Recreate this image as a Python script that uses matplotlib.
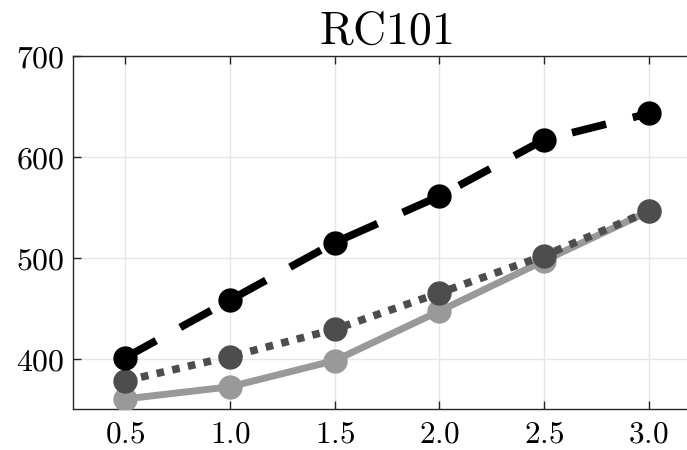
import matplotlib
matplotlib.use("Agg")
import matplotlib.pyplot as plt

plt.rcParams['mathtext.fontset'] = 'cm'
plt.rcParams['font.family'] = 'serif'
plt.rcParams['font.serif'] = ['DejaVu Serif']

x = [0.5, 1.0, 1.5, 2.0, 2.5, 3.0]
svart = [401, 458, 515, 561, 617, 643]
mork = [378, 402, 429, 465, 502, 546]
ljus = [360, 372, 398, 447, 497, 546]

xticks = [0.5, 1.0, 1.5, 2.0, 2.5, 3.0]
yticks = [400, 500, 600, 700]

fig = plt.figure(figsize=(6.87, 4.5), dpi=100)
# axeln går lite utanför bilden till höger, som i originalet
ax = fig.add_axes([73/687, 1 - 409/450, (701 - 73)/687, (409 - 56)/450])

ax.plot(x, ljus, '-', color='#999999', lw=5, marker='o', ms=16.5, zorder=3)
ax.plot(x, mork, color='#4d4d4d', lw=5.5, dashes=(1, 1.1), marker='o', ms=16.5, zorder=4)
ax.plot(x, svart, color='black', lw=5.5, dashes=(4.6, 3.6), marker='o', ms=16.5, zorder=5)

ax.set_xlim(0.25, 3.25)
ax.set_ylim(350, 700)
ax.set_xticks(xticks)
ax.set_yticks(yticks)
ax.set_xticklabels([f'${t:.1f}$' for t in xticks], fontsize=22.5)
ax.set_yticklabels([f'${t}$' for t in yticks], fontsize=23)
ax.tick_params(direction='in', top=True, right=False, length=6, width=1, colors='#262626', pad=7)
ax.tick_params(axis='x', labelcolor='black')
ax.tick_params(axis='y', labelcolor='black', pad=6)
ax.grid(True, color='#e6e6e6', lw=1)
ax.set_axisbelow(True)
for s in ax.spines.values():
    s.set_color('#262626')
    s.set_linewidth(1)

# titeln centreras över den synliga delen
fig.text(386/687, 1 - 44/450, r'$\mathrm{RC101}$', fontsize=33, ha='center', va='baseline')

fig.savefig('out.png', dpi=100)
